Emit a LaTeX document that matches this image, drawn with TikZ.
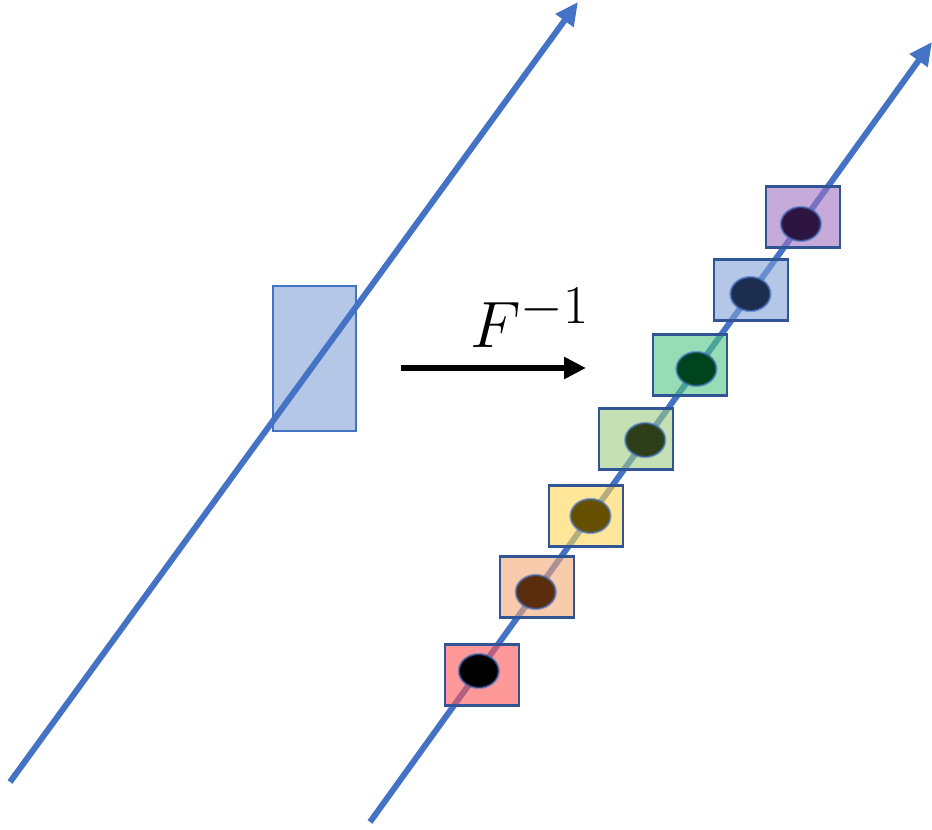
\documentclass[tikz,border=0pt]{standalone}
\usetikzlibrary{arrows.meta,calc,shapes.geometric}
\definecolor{axisblue}{RGB}{68,114,196}
\definecolor{regionfill}{RGB}{180,199,231}
\definecolor{cellborder}{RGB}{47,85,151}
\definecolor{cellred}{RGB}{255,85,85}
\definecolor{cellorange}{RGB}{243,168,118}
\definecolor{cellyellow}{RGB}{255,213,85}
\definecolor{cellsage}{RGB}{158,203,130}
\definecolor{cellmint}{RGB}{80,197,130}
\definecolor{cellblue}{RGB}{130,162,215}
\definecolor{celllilac}{RGB}{158,113,193}
\definecolor{dotblack}{RGB}{0,0,0}
\definecolor{dotbrown}{RGB}{90,45,15}
\definecolor{dotochre}{RGB}{100,80,0}
\definecolor{dotolive}{RGB}{45,62,25}
\definecolor{dotgreen}{RGB}{0,68,30}
\definecolor{dotnavy}{RGB}{28,45,80}
\definecolor{dotplum}{RGB}{46,20,64}
\begin{document}
\begin{tikzpicture}[x=0.02cm,y=-0.02cm,
  axis/.style={line width=3.4pt,axisblue,-{Triangle[length=0.46cm,width=0.42cm]}},
  cell/.style={draw=cellborder,line width=1.3pt,minimum width=1.48cm,minimum height=1.22cm,inner sep=0pt,fill opacity=0.6},
  dot/.style={ellipse,draw=axisblue,draw opacity=0.6,line width=1.3pt,minimum width=0.8cm,minimum height=0.68cm,inner sep=0pt}]
  \useasboundingbox (0,0) rectangle (932,830);
  \coordinate (xstart) at (10,782);
  \coordinate (xend) at (578,2);
  \coordinate (ystart) at (370,822);
  \coordinate (yend) at (932,42);
  % Region on the left line
  \node[draw=axisblue,line width=0.9pt,fill=regionfill,minimum width=1.66cm,minimum height=2.9cm,inner sep=0pt] (region) at (314.5,358.5) {};
  \draw[axis] (xstart) -- (xend);
  % Map
  \coordinate (mapstart) at (401,368);
  \coordinate (mapend) at (586,368);
  \draw[line width=3.4pt,-{Triangle[length=0.44cm,width=0.42cm]}] (mapstart) -- (mapend);
  \node[font=\Huge] (finv) at (530,318) {\scalebox{1.5}{$F^{-1}$}};
  % Cells along the right line
  \draw[axis] (ystart) -- (yend);
  \foreach \sx/\sy/\t/\cfill/\dfill [count=\i] in {
      482/675/0.1936/cellred/dotblack,
      537/587/0.2949/cellorange/dotbrown,
      586/516/0.3923/cellyellow/dotochre,
      636/439/0.4897/cellsage/dotolive,
      690/365/0.5808/cellmint/dotgreen,
      751/290/0.6769/cellblue/dotnavy,
      803/217/0.7667/celllilac/dotplum} {
    \node[cell,fill=\cfill] (cell\i) at (\sx,\sy) {};
    \node[dot,fill=\dfill] (dot\i) at ($(ystart)!\t!(yend)$) {};
  }
\end{tikzpicture}
\end{document}
